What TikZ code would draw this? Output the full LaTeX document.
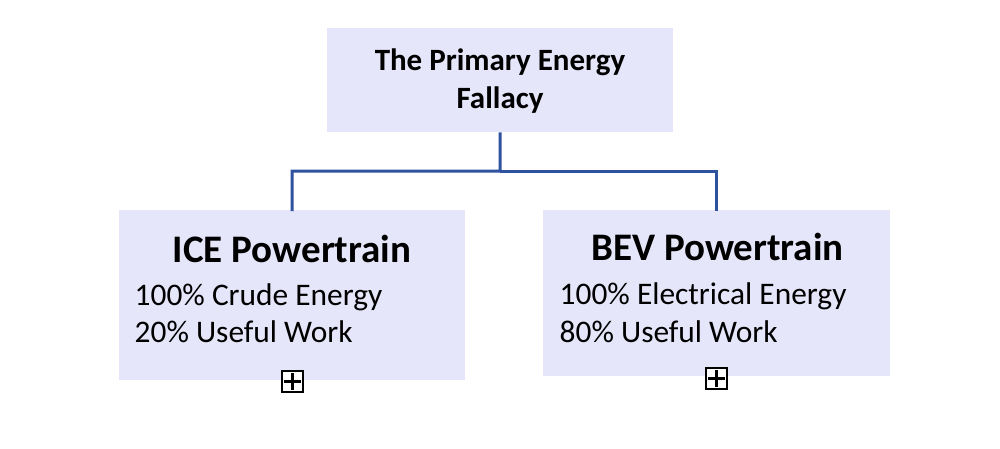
\documentclass[tikz,border=0pt]{standalone}
\usepackage{fontspec}
\setmainfont{Carlito}
\definecolor{boxfill}{RGB}{230,230,250}
\definecolor{connblue}{RGB}{47,82,160}
\begin{document}
\begin{tikzpicture}[x=1pt,y=-1pt,
  box/.style={fill=boxfill,draw=none,inner sep=0pt,anchor=north west},
  conn/.style={draw=connblue,line width=3pt},
  expander/.style={draw=black,line width=2.4pt,fill=white,minimum size=21pt,inner sep=0pt},
  plusbar/.style={line width=2.2pt},
  ttl/.style={font=\fontsize{31}{38}\selectfont\bfseries,align=center,inner sep=0pt},
  head/.style={font=\fontsize{39}{44}\selectfont\bfseries,anchor=base,inner sep=0pt},
  body/.style={font=\fontsize{31.4}{37}\selectfont,anchor=base west,inner sep=0pt}]
\useasboundingbox (0,0) rectangle (1000,448);
% boxes
\node[box,minimum width=346pt,minimum height=104pt] (top) at (327,28) {};
\node[box,minimum width=346pt,minimum height=170pt] (ice) at (119,210) {};
\node[box,minimum width=347pt,minimum height=166pt] (bev) at (543,210) {};
% title text
\node[ttl,anchor=base] (t1) at (500,70) {The Primary Energy};
\node[ttl,anchor=base] (t2) at (500,108) {Fallacy};
% ICE text
\node[head] (iceh) at (292,262) {ICE Powertrain};
\node[body] (ice1) at (134.5,305) {100\% Crude Energy};
\node[body] (ice2) at (134.5,342) {20\% Useful Work};
% BEV text
\node[head] (bevh) at (717.5,260) {BEV Powertrain};
\node[body] (bev1) at (559.5,304) {100\% Electrical Energy};
\node[body] (bev2) at (559.5,342) {80\% Useful Work};
% connectors
\coordinate (split) at (500,171);
\draw[conn] (top.south) -- (split) -| ([yshift=-1pt]ice.north);
\draw[conn] (split) -| ([yshift=-1pt]bev.north);
% expander buttons
\node[expander] (iceplus) at (292.5,381.5) {};
\draw[plusbar] ([xshift=3.5pt]iceplus.west) -- ([xshift=-3.5pt]iceplus.east)
  ([yshift=-3.5pt]iceplus.north) -- ([yshift=3.5pt]iceplus.south);
\node[expander] (bevplus) at (716.5,378.5) {};
\draw[plusbar] ([xshift=3.5pt]bevplus.west) -- ([xshift=-3.5pt]bevplus.east)
  ([yshift=-3.5pt]bevplus.north) -- ([yshift=3.5pt]bevplus.south);
\end{tikzpicture}
\end{document}
